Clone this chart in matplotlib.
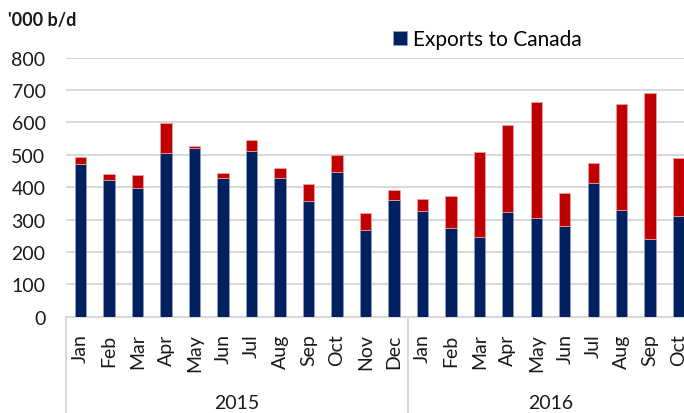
import matplotlib
matplotlib.use('Agg')
import matplotlib.pyplot as plt
import matplotlib.transforms as mtransforms
import numpy as np

plt.rcParams['font.family'] = ['Lato', 'DejaVu Sans']

# monthly exports, '000 b/d (Jan 2015 - Oct 2016)
months = ['Jan', 'Feb', 'Mar', 'Apr', 'May', 'Jun', 'Jul', 'Aug', 'Sep', 'Oct', 'Nov', 'Dec',
          'Jan', 'Feb', 'Mar', 'Apr', 'May', 'Jun', 'Jul', 'Aug', 'Sep', 'Oct']
years = ['2015', '2016']
months_per_year = [12, 10]
canada = [472, 423, 397, 504, 520, 429, 512, 427, 356, 448, 267, 359,
          325, 274, 247, 323, 306, 279, 414, 328, 241, 312]
other = [22, 18, 39, 95, 7, 15, 34, 33, 54, 51, 52, 32,
         38, 99, 260, 269, 357, 103, 60, 329, 451, 178]

NAVY = '#002060'
RED = '#C00000'
GRID = '#D9D9D9'
TEXT = '#1a1a1a'

fig = plt.figure(figsize=(6.84, 4.14), dpi=100)
# plot area runs a little past the right edge (reference is cropped)
ax = fig.add_axes([0.097, 0.2326, 0.916, 0.626])

x = np.arange(len(months))
ax.bar(x, canada, width=0.4, color=NAVY, edgecolor='#8a9cc0', linewidth=0.6,
       label='Exports to Canada', zorder=3)
ax.bar(x, other, width=0.4, bottom=canada, color=RED, edgecolor='#e8a0a0',
       linewidth=0.6, zorder=3)

ax.set_xlim(-0.5, len(months) - 0.5)
ax.set_ylim(0, 800)
ax.set_yticks(range(0, 801, 100))
ax.grid(axis='y', color=GRID, linewidth=1.5, zorder=0)
ax.set_axisbelow(True)

for side in ['top', 'right', 'left']:
    ax.spines[side].set_visible(False)
ax.spines['bottom'].set_color(GRID)
ax.spines['bottom'].set_linewidth(1.5)

ax.tick_params(axis='y', length=0, pad=15, labelsize=14, labelcolor=TEXT)
ax.set_xticks(x)
ax.set_xticklabels(months, rotation=90, fontsize=14, color=TEXT)
ax.tick_params(axis='x', length=0, pad=12)

# year grouping: separators and labels
trans = mtransforms.blended_transform_factory(ax.transData, ax.transAxes)
edges = np.concatenate([[0], np.cumsum(months_per_year)]) - 0.5
for e in edges:
    ax.plot([e, e], [0, -0.45], transform=trans, color=GRID, linewidth=1.5,
            clip_on=False, zorder=1)
for yr, lo, hi in zip(years, edges[:-1], edges[1:]):
    ax.text((lo + hi) / 2, -0.33, yr, transform=trans, ha='center', va='center',
            fontsize=14, color=TEXT)

fig.text(0.012, 0.95, "'000 b/d", fontsize=13, fontweight='bold', color=TEXT,
         ha='left', va='center')

ax.legend(loc='center left', bbox_to_anchor=(0.56, 0.903),
          bbox_transform=fig.transFigure, frameon=False, fontsize=15,
          handlelength=0.65, handleheight=0.65, handletextpad=0.3, borderpad=0)

fig.savefig('out.png', dpi=100)
